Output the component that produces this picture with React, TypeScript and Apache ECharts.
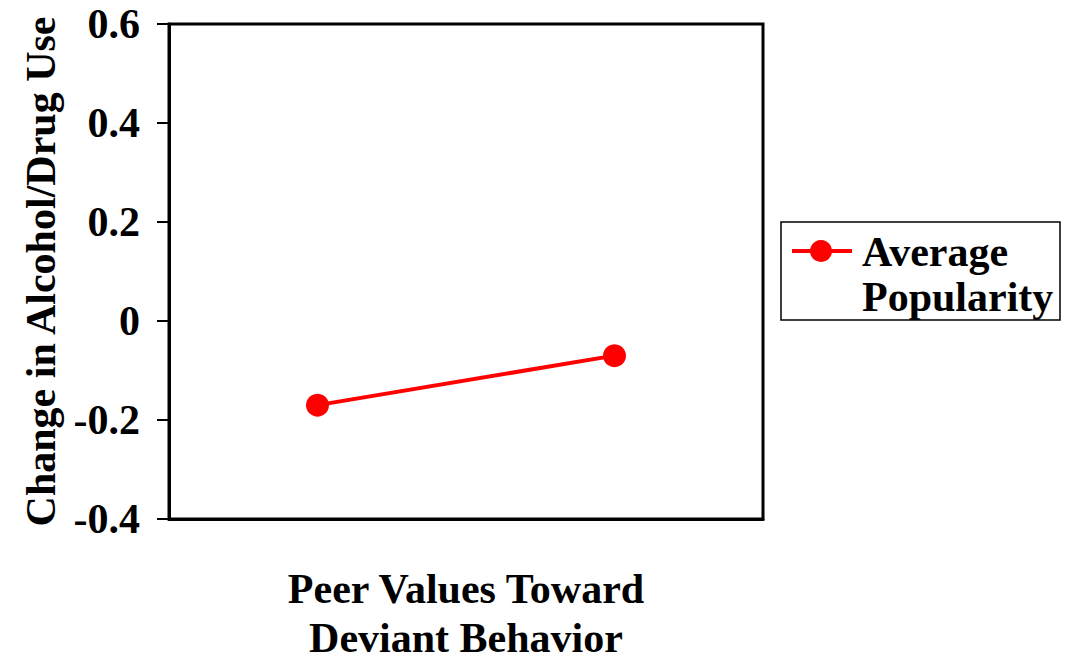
import React, { useEffect, useRef } from "react";
import * as echarts from "echarts";

const categories = ["Low", "High"];
const seriesName = "Average Popularity";
const seriesValues = [-0.17, -0.07];
const yTicks = { min: -0.4, max: 0.6, interval: 0.2 };
const yAxisTitle = "Change in Alcohol/Drug Use";
const xAxisTitleLines = ["Peer Values Toward", "Deviant Behavior"];
const legendLines = ["Average", "Popularity"];

const FONT = "Liberation Serif";
const FS = 42;
const RED = "#ff0000";

export default function App() {
  const ref = useRef<HTMLDivElement>(null);
  useEffect(() => {
    if (!ref.current) return;
    const chart = echarts.init(ref.current, null, { renderer: "svg" });
    chart.setOption({
      animation: false,
      backgroundColor: "#ffffff",
      textStyle: { fontFamily: FONT },
      grid: {
        left: 169,
        right: 305,
        top: 24,
        bottom: 142,
        outerBoundsMode: "none",
        containLabel: false,
        show: true,
        borderColor: "#000",
        borderWidth: 3,
        backgroundColor: "transparent",
      },
      xAxis: {
        type: "category",
        data: categories,
        boundaryGap: true,
        axisLine: { show: true, onZero: false, lineStyle: { color: "#000", width: 3 } },
        axisTick: { show: false },
        axisLabel: { show: false },
        splitLine: { show: false },
        name: `{a|${xAxisTitleLines[0]}}\n{b|${xAxisTitleLines[1]}}`,
        nameLocation: "middle",
        nameGap: 40,
        nameTextStyle: {
          fontFamily: FONT,
          fontWeight: "bold",
          fontSize: FS,
          color: "#000",
          rich: {
            a: { fontFamily: FONT, fontWeight: "bold", fontSize: FS, lineHeight: 60, color: "#000" },
            b: { fontFamily: FONT, fontWeight: "bold", fontSize: FS, lineHeight: 38, color: "#000" },
          },
        },
      },
      yAxis: {
        type: "value",
        min: yTicks.min,
        max: yTicks.max,
        interval: yTicks.interval,
        axisLine: { show: true, lineStyle: { color: "#000", width: 3 } },
        axisTick: { show: true, inside: false, length: 12, lineStyle: { color: "#000", width: 2 } },
        splitLine: { show: false },
        axisLabel: {
          margin: 29,
          fontFamily: FONT,
          fontWeight: "bold",
          fontSize: FS,
          color: "#000",
          formatter: (v: number) => {
            const r = Math.round(v * 10) / 10;
            return r === 0 ? "0" : r.toFixed(1);
          },
        },
        name: yAxisTitle,
        nameLocation: "middle",
        nameRotate: 90,
        nameGap: 107,
        nameTextStyle: {
          fontFamily: FONT,
          fontWeight: "bold",
          fontSize: FS,
          color: "#000",
        },
      },
      series: [
        {
          name: seriesName,
          type: "line",
          data: seriesValues,
          symbol: "circle",
          symbolSize: 23,
          lineStyle: { color: RED, width: 4 },
          itemStyle: { color: RED },
        },
      ],
      graphic: [
        {
          type: "rect",
          shape: { x: 781, y: 222, width: 279, height: 98 },
          style: { fill: "#fff", stroke: "#000", lineWidth: 1.5 },
        },
        {
          type: "line",
          shape: { x1: 792, y1: 251, x2: 852, y2: 251 },
          style: { stroke: RED, lineWidth: 4 },
        },
        {
          type: "circle",
          shape: { cx: 821, cy: 251, r: 11 },
          style: { fill: RED },
        },
        {
          type: "text",
          x: 862,
          y: 252,
          style: {
            text: legendLines[0],
            fontFamily: FONT,
            fontWeight: "bold",
            fontSize: FS,
            fill: "#000",
            verticalAlign: "middle",
            align: "left",
          },
        },
        {
          type: "text",
          x: 862,
          y: 297,
          style: {
            text: legendLines[1],
            fontFamily: FONT,
            fontWeight: "bold",
            fontSize: FS,
            fill: "#000",
            verticalAlign: "middle",
            align: "left",
          },
        },
      ],
    });
    return () => chart.dispose();
  }, []);
  return (
    <div
      ref={ref}
      style={{ position: "fixed", left: 0, top: 0, width: 1068, height: 661 }}
    />
  );
}
